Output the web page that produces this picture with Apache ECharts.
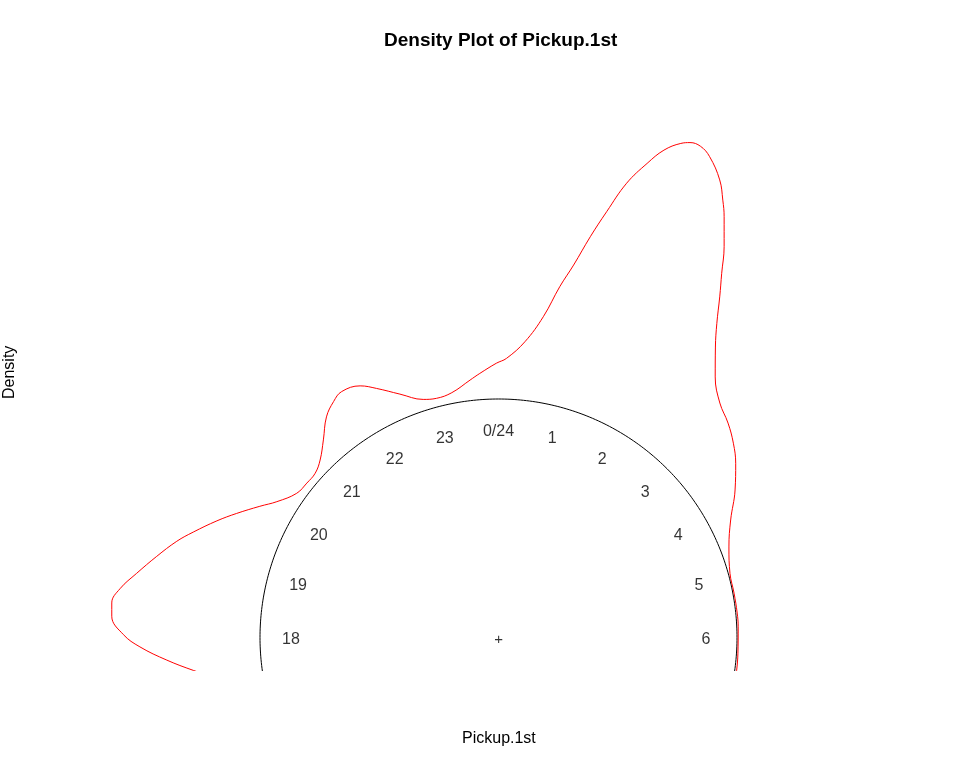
<!DOCTYPE html>
<html>
<head>
<meta charset="utf-8">
<script src="https://cdn.jsdelivr.net/npm/echarts@6/dist/echarts.min.js"></script>
<style>
  html, body { margin: 0; padding: 0; background: #fff; }
  #main { width: 960px; height: 768px; }
</style>
</head>
<body>
<div id="main"></div>
<script>
// clock hour (0-24, clockwise from top) and density drawn outward from the unit circle
var hours = [17.45, 17.59, 17.74, 17.90, 18.03, 18.21, 18.34, 18.49, 18.67, 18.89,
    19.11, 19.27, 19.50, 19.69, 19.92, 20.10, 20.37, 20.59, 20.79, 20.99,
    21.23, 21.47, 21.67, 21.83, 22.08, 22.26, 22.53, 22.83, 23.03, 23.28,
    23.58, 23.73, 23.97, 0.11, 0.34, 0.53, 0.66, 0.76, 0.86, 0.95,
    1.05, 1.16, 1.25, 1.35, 1.41, 1.49, 1.58, 1.72, 1.81, 1.88,
    2.00, 2.10, 2.20, 2.32, 2.45, 2.65, 2.89, 3.13, 3.36, 3.58,
    3.87, 4.21, 4.57, 4.97, 5.29, 5.61, 5.83, 6.25, 6.53, 6.80];
var density = [0.190, 0.287, 0.394, 0.504, 0.573, 0.624, 0.628, 0.600, 0.541, 0.473,
    0.408, 0.354, 0.278, 0.215, 0.142, 0.090, 0.040, 0.032, 0.032, 0.055,
    0.107, 0.173, 0.207, 0.223, 0.204, 0.163, 0.101, 0.047, 0.036, 0.045,
    0.086, 0.110, 0.150, 0.171, 0.245, 0.358, 0.493, 0.593, 0.724, 0.842,
    0.979, 1.083, 1.158, 1.208, 1.225, 1.227, 1.202, 1.131, 1.061, 1.002,
    0.892, 0.791, 0.703, 0.604, 0.520, 0.421, 0.352, 0.317, 0.278, 0.234,
    0.169, 0.091, 0.038, 0.007, 0.005, 0.006, 0.006, 0.006, 0.008, 0.010];
var hourLabels = ['0/24', '1', '2', '3', '4', '5', '6', '7', '8', '9', '10', '11',
    '12', '13', '14', '15', '16', '17', '18', '19', '20', '21', '22', '23'];

var chart = echarts.init(document.getElementById('main'));
var FONT = 'Liberation Sans, Arial, sans-serif';

// clock hour + radius -> x/y on the plane
function toXY(h, r) {
    var a = h / 24 * 2 * Math.PI;
    return [r * Math.sin(a), r * Math.cos(a)];
}

var curveData = [];
for (var i = 0; i < hours.length; i++) {
    curveData.push(toXY(hours[i], 1 + density[i]));
}

var circleData = [];
for (var k = 0; k <= 480; k++) {
    circleData.push(toXY(k * 0.05, 1));
}

var labelData = [];
for (var j = 0; j < hourLabels.length; j++) {
    var p = toXY(j, 0.87);
    labelData.push({value: p, name: hourLabels[j]});
}

var option = {
    backgroundColor: '#fff',
    animation: false,
    title: {
        text: 'Density Plot of Pickup.1st',
        left: 379,
        top: 26,
        textStyle: {fontFamily: FONT, fontSize: 19, fontWeight: 'bold', color: '#000'}
    },
    grid: {left: 59, right: 30, top: 59, bottom: 97.5},
    xAxis: {type: 'value', min: -1.8428, max: 1.8092, show: false},
    yAxis: {type: 'value', min: -0.1384, max: 2.4256, show: false},
    graphic: [
        {type: 'text', left: 462, top: 731,
            style: {text: 'Pickup.1st', font: '16px ' + FONT, fill: '#000'}},
        {type: 'text', x: 2, y: 399, rotation: Math.PI / 2,
            style: {text: 'Density', font: '16px ' + FONT, fill: '#000'}}
    ],
    series: [
        {
            type: 'line',
            data: circleData,
            showSymbol: false,
            clip: true,
            lineStyle: {color: '#000', width: 1}
        },
        {
            type: 'line',
            data: curveData,
            smooth: 0.4,
            showSymbol: false,
            clip: true,
            lineStyle: {color: '#ff0000', width: 1}
        },
        {
            type: 'scatter',
            data: labelData,
            symbolSize: 0,
            clip: true,
            label: {
                show: true,
                position: 'inside',
                offset: [0, 2],
                formatter: function (p) { return p.name; },
                fontFamily: FONT, fontSize: 16, color: '#000'
            }
        },
        {
            type: 'scatter',
            data: [{value: [0, 0], name: '+'}],
            symbolSize: 0,
            label: {
                show: true,
                position: 'inside',
                offset: [0, 2],
                formatter: '+',
                fontFamily: FONT, fontSize: 15, color: '#000'
            }
        }
    ]
};
chart.setOption(option);
</script>
</body>
</html>
